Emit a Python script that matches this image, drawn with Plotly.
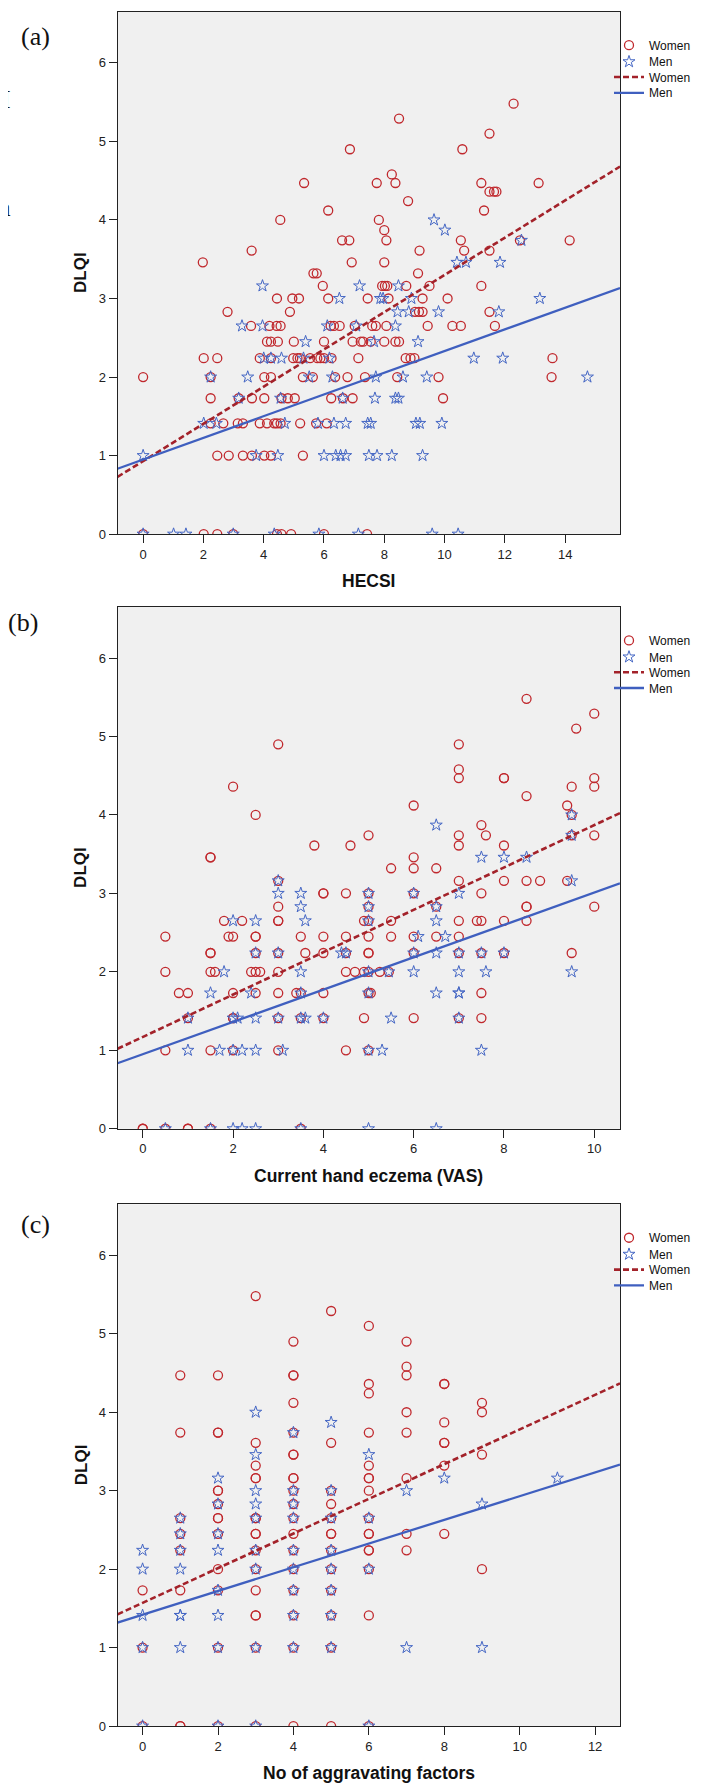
import plotly.graph_objects as go

W, H = 710, 1784

# ---------------- Panel (a): DLQI vs HECSI ----------------
a_women_levels = [5.48, 5.29, 5.10, 4.90, 4.58, 4.47, 4.36, 4.24, 4.12, 4.00, 3.87, 3.74, 3.61, 3.46,
                  3.32, 3.16, 3.00, 2.83, 2.65, 2.45, 2.24, 2.00, 1.73, 1.41, 1.00, 0.00]
a_women_x_rows = [
    [12.29], [8.49], [11.49], [6.86, 10.59], [8.25],
    [5.34, 7.75, 8.37, 11.22, 13.12],
    [11.49, 11.64, 11.72], [8.79], [6.14, 11.31], [4.55, 7.82], [8.0],
    [6.6, 6.84, 8.07, 10.54, 12.5, 14.15],
    [3.6, 9.17, 10.65, 11.49], [1.98, 6.92, 8.0], [5.65, 5.76, 9.12],
    [5.96, 7.93, 8.02, 8.1, 8.73, 9.5, 11.22],
    [4.44, 4.95, 5.17, 6.14, 7.45, 8.14, 9.27, 10.1],
    [2.8, 4.87, 9.02, 9.15, 9.27, 11.49],
    [3.58, 4.19, 4.43, 4.56, 6.22, 6.33, 6.52, 7.02, 7.6, 7.72, 8.07, 9.44, 10.26, 10.54, 11.67],
    [4.11, 4.24, 4.47, 5.0, 6.0, 6.95, 7.22, 7.3, 7.55, 8.0, 8.37, 8.49],
    [2.01, 2.46, 3.87, 4.24, 4.98, 5.12, 5.2, 5.54, 5.78, 5.88, 6.0, 6.25, 7.14, 8.71, 8.87, 9.0, 13.58],
    [0.0, 2.24, 4.02, 4.24, 5.3, 5.63, 6.37, 6.78, 7.36, 8.43, 9.8, 13.55],
    [2.24, 3.17, 3.61, 4.02, 4.59, 4.8, 5.03, 6.24, 6.63, 6.95, 9.95],
    [2.24, 2.66, 3.14, 3.31, 3.87, 4.11, 4.35, 4.44, 4.56, 5.21, 5.74, 6.09],
    [2.46, 2.84, 3.31, 3.61, 4.02, 4.24, 5.3],
    [0.0, 2.01, 2.46, 2.99, 4.44, 4.59, 4.91, 6.0, 7.43],
]
a_men_levels = [4.00, 3.87, 3.74, 3.46, 3.16, 3.00, 2.83, 2.65, 2.45, 2.24, 2.00, 1.73, 1.41, 1.00, 0.00]
a_men_x_rows = [
    [9.65], [10.01], [12.55], [10.41, 10.71, 11.84], [3.96, 7.18, 8.47],
    [6.51, 7.87, 7.96, 8.9, 13.16],
    [8.44, 8.81, 9.8, 11.8],
    [3.28, 3.96, 6.11, 7.07, 8.37],
    [5.39, 7.66, 9.12],
    [4.0, 4.24, 4.59, 5.32, 6.18, 10.97, 11.93],
    [2.24, 3.47, 5.51, 6.28, 7.72, 8.62, 9.41, 14.74],
    [3.17, 4.56, 6.62, 7.69, 8.37, 8.47],
    [2.01, 2.43, 4.7, 5.8, 6.33, 6.72, 7.45, 7.55, 9.05, 9.18, 9.91],
    [0.0, 3.75, 4.47, 6.0, 6.39, 6.55, 6.72, 7.49, 7.76, 8.25, 9.27],
    [0.0, 1.01, 1.42, 2.99, 4.35, 5.83, 7.14, 9.59, 10.45],
]
a_fit_women = [0.93, 0.237]   # intercept, slope
a_fit_men = [0.95, 0.138]
a_xrange = [-0.85, 15.82]
a_xticks = [0, 2, 4, 6, 8, 10, 12, 14]

# ---------------- Panel (b): DLQI vs current hand eczema (VAS) ----------------
b_women_levels = [5.48, 5.29, 5.10, 4.90, 4.58, 4.47, 4.36, 4.24, 4.12, 4.00, 3.87, 3.74, 3.61, 3.46,
                  3.32, 3.16, 3.00, 2.83, 2.65, 2.45, 2.24, 2.00, 1.73, 1.41, 1.00, 0.00]
b_women_x_rows = [
    [8.5], [10.0], [9.6], [3.0, 7.0], [7.0], [7.0, 8.0, 8.0, 10.0], [2.0, 9.5, 10.0], [8.5],
    [6.0, 9.4], [2.5, 9.5], [7.5], [5.0, 7.0, 7.6, 9.5, 10.0], [3.8, 4.6, 7.0, 8.0],
    [1.5, 1.5, 6.0], [5.5, 6.0, 6.5], [3.0, 7.0, 8.0, 8.5, 8.8, 9.4],
    [4.0, 4.0, 4.5, 5.0, 6.0, 7.5], [3.0, 5.0, 6.5, 8.5, 8.5, 10.0],
    [1.8, 2.2, 3.0, 3.0, 4.9, 5.0, 5.5, 7.0, 7.4, 7.5, 8.0, 8.5],
    [0.5, 1.9, 2.0, 2.5, 2.5, 3.5, 4.0, 4.5, 5.0, 5.5, 6.0, 6.5, 7.0],
    [1.5, 1.5, 2.5, 3.0, 3.6, 4.0, 4.5, 5.0, 5.0, 6.0, 7.0, 7.5, 8.0, 9.5],
    [0.5, 1.5, 1.6, 2.4, 2.5, 2.6, 3.0, 4.5, 4.7, 4.9, 5.0, 5.25, 5.45],
    [0.8, 1.0, 2.0, 2.5, 3.0, 3.4, 3.5, 4.0, 5.0, 5.05, 7.5],
    [1.0, 2.0, 2.0, 3.0, 3.5, 4.0, 4.9, 6.0, 7.0, 7.5],
    [0.5, 1.5, 2.0, 3.0, 4.5, 5.0],
    [0.0, 0.0, 0.5, 1.0, 1.0, 1.5, 3.5],
]
b_men_levels = [4.00, 3.87, 3.74, 3.46, 3.16, 3.00, 2.83, 2.65, 2.45, 2.24, 2.00, 1.73, 1.41, 1.00, 0.00]
b_men_x_rows = [
    [9.5], [6.5], [9.5], [7.5, 8.0, 8.5], [3.0, 9.5], [3.0, 3.5, 5.0, 6.0, 7.0],
    [3.5, 5.0, 6.5], [2.0, 2.5, 3.6, 5.0, 6.5], [6.1, 6.7],
    [2.5, 3.0, 4.4, 4.5, 6.0, 6.5, 7.0, 7.5, 8.0],
    [1.8, 3.5, 5.0, 5.45, 6.0, 7.0, 7.6, 9.5],
    [1.5, 2.4, 3.5, 5.0, 6.5, 7.0, 7.0],
    [1.0, 2.0, 2.1, 2.5, 3.0, 3.5, 3.6, 4.0, 5.5, 7.0],
    [1.0, 1.7, 2.0, 2.2, 2.5, 3.1, 5.0, 5.3, 7.5],
    [0.5, 1.5, 2.0, 2.2, 2.5, 3.5, 5.0, 6.5],
]
b_fit_women = [1.17, 0.27]
b_fit_men = [0.95, 0.206]
b_xrange = [-0.56, 10.57]
b_xticks = [0, 2, 4, 6, 8, 10]

# ---------------- Panel (c): DLQI vs number of aggravating factors ----------------
c_women_x_levels = [0, 1, 2, 3, 4, 5, 6, 7, 8, 9]
c_women_y_cols = [
    [1.73, 1.0, 0.0],
    [4.47, 3.74, 2.65, 2.45, 2.24, 1.73, 0.0, 0.0],
    [4.47, 3.74, 3.74, 3.0, 3.0, 2.83, 2.65, 2.65, 2.45, 2.0, 1.73, 1.0, 0.0],
    [5.48, 3.61, 3.32, 3.16, 3.16, 2.65, 2.65, 2.45, 2.45, 2.24, 2.0, 1.73, 1.41, 1.41, 1.0, 0.0],
    [4.9, 4.47, 4.47, 4.12, 3.74, 3.46, 3.46, 3.16, 3.16, 3.0, 2.83, 2.65, 2.45, 2.24, 2.0, 1.73, 1.41, 1.0, 0.0],
    [5.29, 3.61, 3.0, 2.83, 2.65, 2.45, 2.45, 2.24, 2.0, 1.73, 1.41, 1.0, 0.0],
    [5.1, 4.36, 4.24, 3.74, 3.32, 3.16, 3.16, 3.0, 2.65, 2.45, 2.45, 2.24, 2.24, 2.0, 1.41, 0.0],
    [4.9, 4.58, 4.47, 4.0, 3.74, 3.16, 2.45, 2.24],
    [4.36, 4.36, 3.87, 3.61, 3.61, 3.32, 2.45],
    [4.12, 4.0, 3.46, 2.0],
]
c_men_x_levels = [0, 1, 2, 3, 4, 5, 6, 7, 8, 9, 11]
c_men_y_cols = [
    [2.24, 2.0, 1.41, 1.0, 0.0],
    [2.65, 2.45, 2.24, 2.0, 1.41, 1.41, 1.0],
    [3.16, 2.83, 2.45, 2.24, 1.73, 1.41, 1.0, 0.0],
    [4.0, 3.46, 3.0, 2.83, 2.65, 2.24, 2.0, 1.0, 0.0],
    [3.74, 3.0, 2.83, 2.65, 2.24, 2.0, 1.73, 1.41, 1.0],
    [3.87, 3.0, 2.65, 2.24, 2.0, 1.73, 1.41, 1.0],
    [3.46, 2.65, 2.0, 0.0],
    [3.0, 1.0],
    [3.16],
    [2.83, 1.0],
    [3.16],
]
c_fit_women = [1.57, 0.221]
c_fit_men = [1.42, 0.151]
c_xrange = [-0.665, 12.66]
c_xticks = [0, 2, 4, 6, 8, 10, 12]

y_range = [0, 6.65]
y_ticks = [0, 1, 2, 3, 4, 5, 6]

panel_labels = ["(a)", "(b)", "(c)"]
x_titles = ["HECSI", "Current hand eczema (VAS)", "No of aggravating factors"]
y_title = "DLQI"
legend_names = ["Women", "Men", "Women", "Men"]

WOMEN_C = "#c0282d"
MEN_C = "#4466c4"
WLINE_C = "#a3222a"
MLINE_C = "#3f5fbf"


def rows_to_xy(levels, rows):
    xs, ys = [], []
    for lv, row in zip(levels, rows):
        xs.extend(row)
        ys.extend([lv] * len(row))
    return xs, ys


def cols_to_xy(levels, cols):
    xs, ys = [], []
    for lv, col in zip(levels, cols):
        ys.extend(col)
        xs.extend([lv] * len(col))
    return xs, ys


panels = [
    dict(w=rows_to_xy(a_women_levels, a_women_x_rows), m=rows_to_xy(a_men_levels, a_men_x_rows),
         fw=a_fit_women, fm=a_fit_men, xr=a_xrange, xt=a_xticks, top=3.8, bottom=528.5),
    dict(w=rows_to_xy(b_women_levels, b_women_x_rows), m=rows_to_xy(b_men_levels, b_men_x_rows),
         fw=b_fit_women, fm=b_fit_men, xr=b_xrange, xt=b_xticks, top=601.7, bottom=1125.8),
    dict(w=cols_to_xy(c_women_x_levels, c_women_y_cols), m=cols_to_xy(c_men_x_levels, c_men_y_cols),
         fw=c_fit_women, fm=c_fit_men, xr=c_xrange, xt=c_xticks, top=1201.7, bottom=1725.8),
]

PL, PR = 109.5, 612.0

fig = go.Figure()
layout = dict(
    width=W, height=H, margin=dict(l=0, r=0, t=0, b=0),
    paper_bgcolor="white", plot_bgcolor="#f0f0f0",
    font=dict(family="Liberation Sans, Arial, sans-serif", color="#111"),
    showlegend=True, annotations=[],
)

label_y = [28.8, 616.8, 1222.0]
label_x = [27.5, 15.0, 27.5]
legend_row_offsets = [39.0, 55.6, 71.0, 86.8]   # item centres below plot top

leg_idx = 0
for i, p in enumerate(panels):
    k = "" if i == 0 else str(i + 1)
    xa, ya = "x" + k, "y" + k
    wx, wy = p["w"]
    mx, my = p["m"]
    lx = p["xr"]
    traces = [
        go.Scatter(x=wx, y=wy, mode="markers", name=legend_names[0],
                   marker=dict(symbol="circle-open", size=9, color=WOMEN_C, line=dict(width=1.3, color=WOMEN_C))),
        go.Scatter(x=mx, y=my, mode="markers", name=legend_names[1],
                   marker=dict(symbol="star-open", size=9, color=MEN_C, line=dict(width=1.0, color=MEN_C))),
        go.Scatter(x=lx, y=[p["fw"][0] + p["fw"][1] * v for v in lx], mode="lines", name=legend_names[2],
                   line=dict(color=WLINE_C, width=2.6, dash="6px,3px")),
        go.Scatter(x=lx, y=[p["fm"][0] + p["fm"][1] * v for v in lx], mode="lines", name=legend_names[3],
                   line=dict(color=MLINE_C, width=2.3)),
    ]
    for j, tr in enumerate(traces):
        leg_idx += 1
        lg = "legend" if leg_idx == 1 else "legend%d" % leg_idx
        tr.update(xaxis=xa, yaxis=ya, legend=lg)
        fig.add_trace(tr)
        centre = p["top"] + legend_row_offsets[j]
        layout[lg] = dict(x=601 / W, y=1 - (centre - 20) / H, xanchor="left", yanchor="top",
                          font=dict(size=12, color="#111"), bgcolor="rgba(0,0,0,0)", borderwidth=0, itemwidth=30)

    ax_common = dict(showline=True, linecolor="#222", linewidth=1, mirror=True, ticks="outside", ticklen=8,
                     tickcolor="#222", tickwidth=1, showgrid=False, zeroline=False,
                     tickfont=dict(size=13, color="#222"))
    layout["xaxis" + k] = dict(domain=[PL / W, PR / W], range=p["xr"], anchor=ya, tickvals=p["xt"], **ax_common)
    layout["yaxis" + k] = dict(domain=[1 - p["bottom"] / H, 1 - p["top"] / H], range=y_range, anchor=xa,
                               tickvals=y_ticks, **ax_common)

    mid_y = (p["top"] + p["bottom"]) / 2
    layout["annotations"].append(dict(text="<b>%s</b>" % y_title, x=73 / W, y=1 - mid_y / H, xref="paper", yref="paper",
                                      xanchor="center", yanchor="middle", textangle=-90, showarrow=False,
                                      font=dict(size=17, color="#111")))
    layout["annotations"].append(dict(text="<b>%s</b>" % x_titles[i], x=(PL + PR) / 2 / W, y=1 - (p["bottom"] + 47) / H,
                                      xref="paper", yref="paper", xanchor="center", yanchor="middle", showarrow=False,
                                      font=dict(size=17.5, color="#111")))
    layout["annotations"].append(dict(text=panel_labels[i], x=label_x[i] / W, y=1 - label_y[i] / H, xref="paper",
                                      yref="paper", xanchor="center", yanchor="middle", showarrow=False,
                                      font=dict(family="Liberation Serif, Times New Roman, serif", size=26, color="#111")))

# cropped characters from the neighbouring text column at the left edge
for ch, yy in [("I", 92), ("a", 200)]:
    layout["annotations"].append(dict(text=ch, x=4.5 / W, y=1 - yy / H, xref="paper", yref="paper",
                                      xanchor="right", yanchor="middle", showarrow=False,
                                      font=dict(family="Liberation Serif, Times New Roman, serif", size=26, color="#111")))

fig.update_layout(**layout)
fig.write_html("out.html")
